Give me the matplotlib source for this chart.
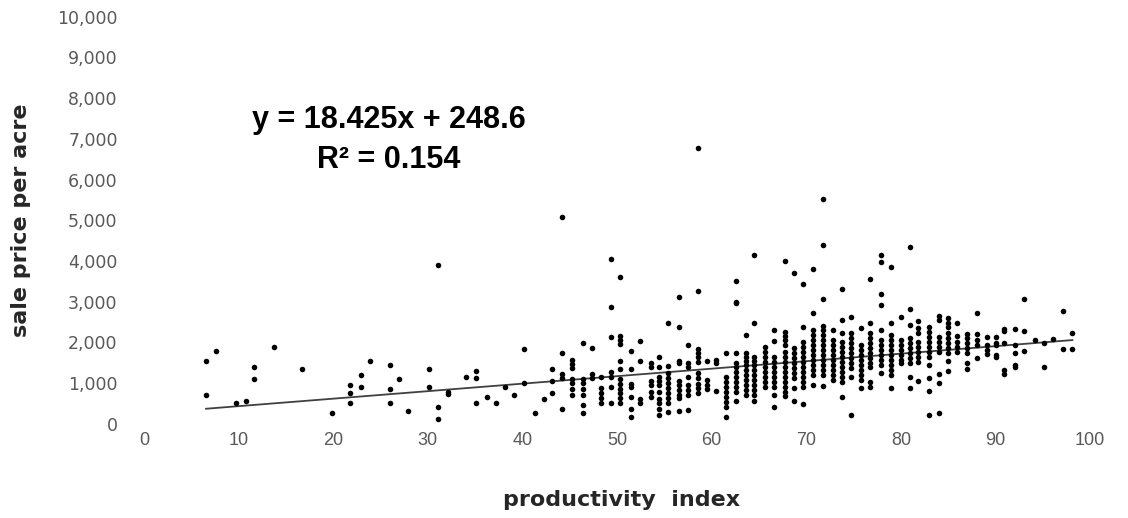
import numpy as np
import matplotlib.pyplot as plt
from matplotlib.ticker import FuncFormatter

# scattered sales at the low end of the index
low_index = [6.55, 7.62, 6.55, 9.76, 10.77, 11.59, 11.59, 13.72, 16.67, 19.83, 21.76, 21.76,
             21.76, 22.88, 22.88, 23.89, 26.03, 26.03, 26.03, 26.94, 27.86, 30.1, 30.1, 31.11,
             31.11, 31.11, 32.13, 32.13, 34.06, 35.08, 35.08, 35.08, 36.2, 37.21, 38.13, 39.15,
             40.16, 40.16, 41.28, 42.3]
low_price = [1550, 1796, 708, 503, 568, 1396, 1100, 1887, 1354, 265, 961, 765,
             518, 1199, 904, 1543, 1445, 862, 511, 1100, 322, 1354, 904, 3902,
             420, 125, 732, 790, 1150, 1305, 1133, 511, 666, 511, 904, 708,
             1838, 1010, 265, 617]

# stacked columns, one per index value
col_index = [43.11, 44.23, 45.25, 46.37, 47.38, 48.3, 49.32, 50.33, 51.45, 52.47, 53.59,
             54.4, 55.42, 56.54, 57.55, 58.57, 59.48, 60.5, 61.52, 62.53, 63.65, 64.47,
             65.59, 66.6, 67.72, 68.74, 69.65, 70.67, 71.79, 72.8, 73.82, 74.74, 75.75,
             76.77, 77.89, 78.91, 80.03, 80.94, 81.86, 82.97, 83.99, 85.01, 85.92, 86.94,
             88.06, 89.08, 90.09, 90.91, 92.02, 93.04, 94.16, 95.18, 96.09, 97.11, 98.13]
col_price = [
    [1354, 1059, 765],
    [5089, 1740, 1224, 1130, 371],
    [1568, 1470, 1372, 1108, 995, 862, 708],
    [1993, 1108, 995, 862, 700, 462, 265],
    [1855, 1216, 1118],
    [1157, 872, 749, 627, 518],
    [4049, 2877, 2140, 1280, 1157, 912, 518],
    [3614, 2157, 2059, 1961, 1550, 1354, 1093, 978, 848, 749, 627, 518],
    [1796, 1354, 978, 912, 666, 371, 174],
    [2042, 1550, 602, 518],
    [1501, 1403, 1059, 953, 774, 666],
    [1649, 1403, 1157, 1059, 946, 789, 602, 504, 356, 216],
    [2484, 1420, 1241, 1118, 995, 872, 749, 627, 504, 297],
    [3123, 2386, 1550, 1501, 1059, 953, 830, 708, 627, 322],
    [1936, 1501, 1403, 1157, 953, 830, 708, 339],
    [6780, 3270, 1830, 1732, 1634, 1526, 1241, 1118, 978, 872, 749],
    [1550, 1076, 953, 848],
    [1568, 1486, 813],
    [1747, 1157, 1034, 912, 789, 666, 543, 420, 174],
    [3516, 3000, 2970, 1747, 1501, 1403, 1280, 1157, 1034, 912, 789, 568],
    [2182, 1747, 1649, 1550, 1445, 1322, 1199, 1076, 953, 830, 708],
    [4147, 2484, 1649, 1550, 1445, 1322, 1199, 1076, 953, 830, 708, 568],
    [1880, 1772, 1649, 1526, 1403, 1280, 1157, 1034, 912],
    [2305, 2042, 1649, 1526, 1403, 1280, 1157, 1034, 912, 708, 420],
    [4007, 2263, 2157, 2059, 1936, 1772, 1649, 1526, 1403, 1280, 1157, 1034, 912, 789, 683],
    [3712, 1855, 1732, 1609, 1486, 1364, 1241, 1118, 872, 568],
    [3428, 2386, 2017, 1894, 1772, 1649, 1526, 1403, 1280, 1157, 1034, 912, 486],
    [3803, 2730, 2305, 2182, 2059, 1936, 1813, 1690, 1567, 1445, 1322, 1199, 953],
    [5523, 4393, 3066, 2403, 2305, 2182, 2059, 1936, 1813, 1690, 1567, 1445, 1322, 1199, 929],
    [2305, 2059, 1936, 1813, 1690, 1567, 1445, 1322, 1199, 1076],
    [3312, 2550, 2238, 2017, 1894, 1772, 1649, 1526, 1403, 1280, 1157, 1034, 666],
    [2616, 2222, 2099, 1977, 1855, 1732, 1609, 1486, 1364, 1157, 216],
    [2346, 1936, 1813, 1690, 1567, 1445, 1322, 1199, 1076, 872],
    [3558, 2484, 2222, 2099, 1977, 1855, 1732, 1609, 1486, 1403, 1034, 912],
    [4147, 3983, 3182, 2919, 2305, 2059, 1936, 1813, 1690, 1567, 1445, 1241],
    [3860, 2484, 2182, 2059, 1936, 1813, 1690, 1567, 1445, 1322, 1199, 872],
    [2632, 2059, 1936, 1813, 1690, 1567, 1486],
    [4352, 2820, 2427, 2099, 1977, 1855, 1732, 1609, 1486, 1157, 872],
    [2533, 2346, 2222, 2017, 1894, 1772, 1649, 1526, 1059],
    [2386, 2263, 2140, 2017, 1894, 1772, 1649, 1445, 1118, 806, 216],
    [2648, 2550, 2140, 2017, 1894, 1772, 1224, 995, 273],
    [2592, 2484, 2371, 2222, 2099, 1977, 1855, 1747, 1550, 1306],
    [2484, 2157, 2017, 1894, 1772],
    [2206, 2099, 1977, 1855, 1732, 1486, 1339],
    [2730, 2206, 2059, 1936, 1609],
    [2140, 1936, 1813, 1714],
    [2140, 1977, 1936, 1690, 1634],
    [2322, 2280, 1977, 1322, 1224],
    [2329, 1936, 1732, 1445, 1388],
    [3066, 2287, 1796],
    [2059],
    [1993, 1403],
    [2076],
    [2779, 1838],
    [2238, 1838],
]

slope, intercept, r2 = 18.425, 248.6, 0.154

x = np.array(low_index + [xi for xi, col in zip(col_index, col_price) for _ in col])
y = np.array(low_price + [v for col in col_price for v in col])

fig = plt.figure(figsize=(11.28, 5.18), dpi=100, facecolor="w")
ax = fig.add_axes([0.1277, 0.1819, 0.8387, 0.7857])

ax.scatter(x, y, s=16, c="black", marker="o", linewidths=0, zorder=3)
xl = np.array([x.min(), x.max()])
ax.plot(xl, slope * xl + intercept, "-", c="#404040", lw=1.3, zorder=2)

ax.set(xlim=(0, 100), ylim=(0, 10000))
ax.set_xticks(np.arange(0, 101, 10))
ax.set_yticks(np.arange(0, 10001, 1000))
ax.yaxis.set_major_formatter(FuncFormatter(lambda v, p: f"{int(v):,}"))
for s in ax.spines.values():
    s.set_visible(False)
ax.tick_params(axis="y", length=0, pad=19, labelsize=12.5, labelcolor="#595959")
ax.tick_params(axis="x", length=0, pad=6, labelsize=13, labelcolor="#595959")
for lab in ax.get_xticklabels():
    lab.set_fontfamily("Liberation Sans")
for lab in ax.get_yticklabels():
    lab.set_fontfamily("DejaVu Sans")

ax.set_xlabel("productivity  index", fontsize=16, fontweight="bold", color="#262626",
              family="DejaVu Sans")
ax.set_ylabel("sale price per acre", fontsize=16, fontweight="bold", color="#262626",
              family="DejaVu Sans")
ax.xaxis.set_label_coords(0.505, -0.163)
ax.yaxis.set_label_coords(-0.12, 0.5)

ax.text(0.259, 0.746, f"y = {slope}x + {intercept}", transform=ax.transAxes,
        ha="center", va="center", fontsize=22, fontweight="bold", family="Liberation Sans")
ax.text(0.259, 0.648, f"R² = {r2}", transform=ax.transAxes,
        ha="center", va="center", fontsize=22, fontweight="bold", family="Liberation Sans")

fig.savefig("out.png", dpi=100)
